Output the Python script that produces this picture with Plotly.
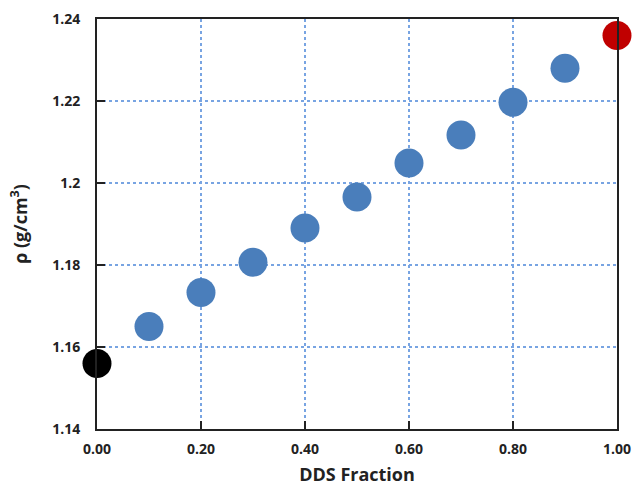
import plotly.graph_objects as go

# DDS fraction and measured density
dds_fraction = [0.0, 0.1, 0.2, 0.3, 0.4, 0.5, 0.6, 0.7, 0.8, 0.9, 1.0]
density = [1.156, 1.165, 1.1733, 1.1807, 1.189, 1.1966, 1.2049, 1.2117, 1.2197, 1.228, 1.236]
point_colors = ["#000000"] + ["#4a7ebb"] * 9 + ["#c00000"]

x_ticks = [0.0, 0.2, 0.4, 0.6, 0.8, 1.0]
x_tick_labels = ["0.00", "0.20", "0.40", "0.60", "0.80", "1.00"]
y_ticks = [1.14, 1.16, 1.18, 1.20, 1.22, 1.24]
y_tick_labels = ["1.14", "1.16", "1.18", "1.2", "1.22", "1.24"]

font_family = "Open Sans, Liberation Sans, Arial, sans-serif"

fig = go.Figure(
    go.Scatter(
        x=dds_fraction,
        y=density,
        mode="markers",
        marker=dict(size=29, color=point_colors, line=dict(width=0)),
        cliponaxis=False,
        showlegend=False,
    )
)

axis_common = dict(
    showline=True,
    linecolor="#222222",
    linewidth=2,
    mirror=True,
    ticks="inside",
    ticklen=8,
    tickwidth=2,
    tickcolor="#222222",
    showgrid=True,
    gridcolor="#78a4e2",
    griddash="dot",
    gridwidth=1.5,
    zeroline=False,
    tickfont=dict(family=font_family, size=14, color="#222222", weight="bold"),
)

fig.update_xaxes(
    range=[0, 1],
    tickvals=x_ticks,
    ticktext=x_tick_labels,
    ticklabelstandoff=6,
    title=dict(text="<b>DDS Fraction</b>",
               font=dict(family=font_family, size=18, color="#222222"),
               standoff=15),
    **axis_common,
)
fig.update_yaxes(
    range=[1.14, 1.24],
    tickvals=y_ticks,
    ticktext=y_tick_labels,
    ticklabelstandoff=12,
    title=dict(text="<b>ρ (g/cm<sup>3</sup>)</b>",
               font=dict(family=font_family, size=18, color="#222222"),
               standoff=20),
    **axis_common,
)

fig.update_layout(
    width=633,
    height=486,
    margin=dict(l=97, r=16, t=19, b=57, autoexpand=False),
    plot_bgcolor="white",
    paper_bgcolor="white",
)

fig.write_html("out.html")
